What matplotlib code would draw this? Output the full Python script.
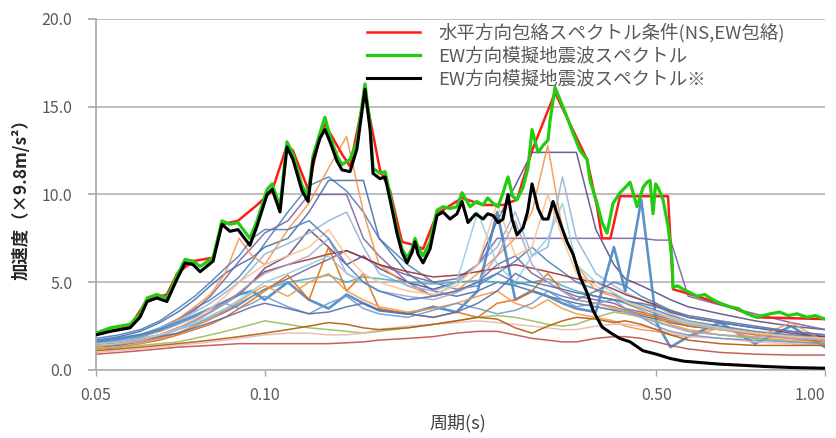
import numpy as np
import matplotlib
matplotlib.use("Agg")
from matplotlib import pyplot as plt
from matplotlib.ticker import FixedLocator, FixedFormatter, NullLocator

plt.rcParams['font.family'] = ['Noto Sans CJK JP', 'DejaVu Sans']

# 背景の各スペクトル（共通の周期）
period_bg = [0.05, 0.055, 0.06, 0.065, 0.07, 0.075, 0.08, 0.085, 0.09, 0.095, 0.10,
             0.11, 0.12, 0.13, 0.14, 0.15, 0.16, 0.18,
             0.20, 0.22, 0.24, 0.26, 0.28, 0.30, 0.32, 0.34, 0.36,
             0.39, 0.42, 0.44, 0.47, 0.50, 0.53,
             0.57, 0.65, 0.75, 0.87, 1.00]

bg01 = [1.6, 1.8, 2.0, 2.4, 2.9, 3.5, 4.0, 4.6, 5.3, 6.2, 7.2,
        9.0, 10.5, 11.0, 10.2, 9.0, 7.5, 6.0,
        5.0, 4.6, 4.8, 5.5, 6.2, 7.0, 6.2, 5.6, 5.0,
        4.6, 4.3, 4.0, 3.7, 3.4, 3.1,
        2.8, 2.5, 2.2, 2.0, 1.9]
bg02 = [1.5, 1.7, 1.9, 2.3, 2.9, 3.4, 4.2, 5.2, 6.2, 7.0, 7.8,
        8.5, 10.0, 10.0, 10.0, 7.5, 6.5, 5.0,
        4.2, 4.5, 5.0, 6.0, 6.5, 5.5, 5.0, 4.5, 4.2,
        4.0, 3.8, 3.5, 3.3, 3.1, 2.9,
        2.6, 2.4, 2.1, 1.9, 1.8]
bg03 = [1.4, 1.5, 1.7, 2.0, 2.4, 2.8, 3.3, 3.8, 4.3, 5.0, 5.8,
        6.5, 8.0, 7.0, 6.0, 6.5, 5.8, 5.0,
        4.6, 5.0, 6.0, 8.5, 10.5, 12.4, 12.4, 12.4, 12.4,
        8.0, 6.0, 5.2, 4.8, 4.4, 4.0,
        3.6, 3.2, 2.8, 2.5, 2.3]
bg04 = [1.3, 1.4, 1.6, 1.8, 2.1, 2.5, 2.9, 3.3, 3.7, 4.2, 4.6,
        5.2, 5.8, 6.3, 6.8, 6.4, 6.0, 5.4,
        5.0, 5.2, 6.0, 7.5, 7.5, 7.5, 7.5, 7.5, 7.5,
        7.5, 7.5, 7.5, 7.5, 7.4, 7.4,
        4.2, 3.7, 3.2, 2.7, 2.3]
bg05 = [1.7, 1.9, 2.2, 2.7, 3.3, 4.0, 4.8, 5.5, 6.0, 6.4, 7.0,
        7.5, 9.0, 10.8, 10.8, 10.8, 7.5, 5.5,
        4.5, 4.2, 4.5, 5.0, 4.8, 4.5, 4.2, 4.0, 3.8,
        3.6, 3.4, 3.3, 3.1, 2.9, 2.7,
        2.5, 2.3, 2.1, 1.9, 1.8]
bg06 = [1.3, 1.5, 1.8, 2.3, 2.9, 3.6, 4.3, 5.5, 7.5, 6.5, 6.0,
        8.0, 9.5, 11.5, 13.3, 9.0, 6.0, 4.8,
        4.2, 4.5, 5.5, 6.5, 7.5, 9.0, 12.8, 8.0, 6.0,
        4.5, 4.2, 3.8, 3.4, 3.0, 2.6,
        2.3, 2.0, 1.8, 1.7, 1.6]
bg07 = [1.5, 1.7, 2.0, 2.4, 2.8, 3.3, 3.8, 4.4, 5.0, 5.8, 6.6,
        7.2, 7.8, 8.5, 9.0, 7.0, 5.5, 4.8,
        4.5, 5.0, 6.0, 7.0, 9.0, 6.5, 7.0, 11.0, 7.5,
        5.5, 4.8, 4.4, 4.0, 3.6, 3.2,
        2.8, 2.4, 2.1, 1.9, 1.8]
bg08 = [1.6, 1.8, 2.0, 2.3, 2.7, 3.1, 3.5, 3.9, 4.3, 4.5, 4.0,
        5.0, 4.0, 3.5, 4.3, 3.8, 3.4, 3.2,
        3.6, 3.3, 4.5, 9.0, 4.0, 4.5, 4.2, 3.8, 3.5,
        3.3, 7.0, 4.5, 9.7, 2.7, 1.3,
        1.9, 2.7, 1.5, 2.5, 1.3]
bg09 = [1.5, 1.6, 1.8, 2.0, 2.3, 2.6, 3.0, 3.4, 3.8, 4.2, 4.6,
        5.0, 5.2, 5.4, 5.0, 5.3, 5.2, 5.0,
        4.9, 5.0, 5.1, 5.0, 4.9, 5.0, 5.2, 4.8, 4.5,
        4.2, 4.0, 3.8, 3.5, 3.2, 3.0,
        2.7, 2.4, 2.1, 1.9, 1.7]
bg10 = [1.4, 1.5, 1.7, 2.0, 2.4, 2.8, 3.3, 3.8, 4.4, 5.0, 5.6,
        6.0, 6.3, 6.6, 6.8, 6.4, 6.0, 5.6,
        5.3, 5.4, 5.6, 5.8, 6.0, 5.8, 5.6, 5.4, 5.2,
        5.0, 4.6, 4.3, 4.0, 3.7, 3.3,
        3.0, 2.7, 2.4, 2.1, 1.9]
bg11 = [1.2, 1.3, 1.5, 1.7, 2.0, 2.3, 2.6, 3.0, 3.5, 4.0, 4.5,
        5.4, 4.0, 7.0, 4.5, 5.5, 3.5, 3.2,
        3.0, 3.3, 3.0, 3.8, 4.0, 4.5, 5.5, 4.5, 4.0,
        3.8, 3.6, 3.4, 3.2, 3.0, 2.8,
        2.5, 2.3, 2.0, 1.8, 1.6]
bg12 = [1.2, 1.3, 1.5, 1.8, 2.1, 2.5, 2.9, 3.4, 3.9, 4.4, 4.8,
        4.2, 5.0, 5.5, 4.5, 4.0, 3.6, 3.3,
        3.5, 3.8, 4.2, 4.5, 3.8, 3.5, 4.0, 3.5, 3.2,
        3.0, 2.8, 2.5, 2.3, 2.2, 2.0,
        1.9, 2.4, 1.8, 2.7, 1.6]
bg13 = [1.2, 1.3, 1.4, 1.5, 1.6, 1.8, 2.0, 2.2, 2.4, 2.6, 2.8,
        2.6, 2.4, 2.3, 2.2, 2.1, 2.2, 2.4,
        2.6, 2.8, 3.0, 3.1, 3.0, 2.8, 2.6, 2.5, 2.6,
        3.0, 3.3, 3.2, 3.0, 2.8, 2.5,
        2.2, 2.0, 1.8, 1.6, 1.5]
bg14 = [0.9, 1.0, 1.1, 1.2, 1.3, 1.35, 1.4, 1.45, 1.5, 1.5, 1.5,
        1.5, 1.5, 1.5, 1.55, 1.6, 1.7, 1.8,
        1.9, 2.1, 2.2, 2.2, 2.0, 1.8, 1.7, 1.6, 1.6,
        1.8, 1.9, 1.9, 1.8, 1.6, 1.4,
        1.2, 1.0, 0.9, 0.85, 0.85]
bg15 = [1.0, 1.1, 1.2, 1.3, 1.4, 1.5, 1.6, 1.7, 1.8, 1.9, 2.0,
        2.1, 2.1, 2.0, 2.0, 2.1, 2.3, 2.5,
        2.6, 2.7, 2.8, 2.7, 2.6, 2.5, 2.4, 2.3, 2.3,
        2.5, 2.6, 2.6, 2.5, 2.3, 2.1,
        1.9, 1.8, 1.6, 1.5, 1.4]
bg16 = [1.1, 1.2, 1.3, 1.4, 1.5, 1.6, 1.7, 1.8, 1.9, 2.0, 2.1,
        2.3, 2.5, 2.7, 2.6, 2.4, 2.3, 2.4,
        2.6, 2.8, 3.0, 2.9, 2.4, 2.1, 2.5, 2.8, 3.0,
        2.9, 2.7, 2.8, 2.6, 2.3, 2.0,
        1.7, 1.5, 1.4, 1.4, 1.4]
bg17 = [1.5, 1.7, 1.9, 2.2, 2.6, 3.0, 3.5, 3.8, 3.5, 3.8, 4.2,
        3.6, 3.2, 3.8, 4.2, 3.5, 3.2, 3.0,
        3.4, 3.8, 3.5, 3.2, 3.4, 3.8, 4.5, 4.0, 3.6,
        3.8, 4.0, 3.5, 3.0, 2.5, 2.2,
        2.0, 1.8, 1.7, 1.6, 1.5]
bg18 = [1.4, 1.5, 1.6, 1.9, 2.3, 2.8, 3.3, 3.8, 4.4, 5.0, 5.5,
        6.0, 6.5, 7.5, 5.5, 5.0, 4.5, 4.2,
        4.0, 4.4, 5.0, 6.5, 8.5, 6.0, 5.0, 4.5, 4.0,
        3.8, 3.5, 3.3, 3.0, 2.7, 2.5,
        2.2, 2.0, 1.9, 1.8, 1.7]
bg19 = [1.5, 1.6, 1.8, 2.0, 2.3, 2.7, 3.1, 3.5, 4.0, 4.5, 5.0,
        5.5, 6.0, 6.5, 5.5, 5.0, 4.5, 4.0,
        4.2, 5.0, 9.0, 6.0, 5.0, 6.5, 7.5, 9.5, 6.0,
        5.0, 4.4, 4.0, 3.6, 3.3, 2.9,
        2.6, 2.3, 2.1, 1.9, 1.8]
bg20 = [1.4, 1.5, 1.7, 1.9, 2.1, 2.4, 2.7, 3.0, 3.3, 3.6, 3.8,
        3.5, 3.2, 3.3, 3.6, 3.8, 3.4, 3.2,
        3.0, 3.3, 3.8, 4.5, 5.5, 5.0, 4.8, 4.6, 4.4,
        4.2, 4.0, 3.9, 3.8, 3.6, 3.4,
        3.1, 2.8, 2.5, 2.2, 2.0]
bg21 = [1.4, 1.5, 1.7, 2.0, 2.4, 2.9, 3.5, 4.2, 5.0, 5.5, 6.0,
        6.5, 7.0, 8.0, 6.5, 5.5, 5.0, 4.5,
        4.3, 4.8, 6.0, 9.5, 6.5, 7.0, 10.0, 7.5, 5.5,
        4.8, 4.2, 3.9, 3.6, 3.3, 3.0,
        2.7, 2.4, 2.1, 1.9, 1.8]
bg22 = [1.8, 2.0, 2.3, 2.8, 3.5, 4.2, 5.0, 5.8, 6.5, 7.5, 8.0,
        8.0, 8.5, 7.5, 6.0, 5.0, 4.5, 4.0,
        4.2, 4.5, 5.0, 5.5, 5.0, 4.8, 4.5, 4.2, 4.0,
        4.5, 5.0, 4.8, 4.2, 3.8, 3.4,
        3.0, 2.7, 2.4, 2.2, 2.0]

bg_all = [bg01, bg02, bg03, bg04, bg05, bg06, bg07, bg08, bg09, bg10, bg11,
          bg12, bg13, bg14, bg15, bg16, bg17, bg18, bg19, bg20, bg21, bg22]
bg_colors = ['#4F81BD', '#8064A2', '#5F4B8B', '#7A5FA8', '#4A6FA5', '#F79646',
             '#95B3D7', '#4A86C5', '#4BACC6', '#953735', '#E46C0A', '#F79646',
             '#9BBB59', '#C0504D', '#E6B9B8', '#B65708', '#729ACA', '#B3A2C7',
             '#93CDDD', '#5A6FA8', '#FAC090', '#4F81BD']
bg_widths = [1.1] * 22
bg_widths[7] = 1.9

# 水平方向包絡スペクトル条件
env_t = [0.05, 0.0575, 0.0617, 0.0669, 0.0698, 0.0745, 0.0809, 0.0839, 0.0896, 0.0969,
         0.1031, 0.1096, 0.1123, 0.1195, 0.1255, 0.1281, 0.1374, 0.142, 0.151, 0.1606,
         0.1674, 0.1758, 0.1855, 0.1917, 0.203, 0.225, 0.2453, 0.2663, 0.282, 0.300,
         0.3297, 0.3761, 0.3918, 0.40, 0.414, 0.4307, 0.5246, 0.5355, 0.591, 0.677,
         0.756, 1.0]
env_v = [2.0, 2.5, 4.0, 4.3, 5.5, 6.2, 6.4, 8.3, 8.5, 9.4,
         10.2, 12.8, 12.5, 10.3, 13.4, 14.0, 12.3, 11.6, 15.8, 11.4,
         10.2, 7.3, 7.1, 6.9, 8.9, 9.8, 9.4, 9.4, 9.7, 12.5,
         15.8, 12.0, 9.3, 7.5, 7.5, 9.9, 9.9, 4.6, 4.2, 3.6,
         3.0, 2.9]

# EW方向模擬地震波スペクトル
ew_t = [0.05, 0.053, 0.0575, 0.0599, 0.0617, 0.0642, 0.0669, 0.0698, 0.0721, 0.0745,
        0.0767, 0.0809, 0.0839, 0.0867, 0.0896, 0.0941, 0.0969, 0.101, 0.1031, 0.1065,
        0.1096, 0.1123, 0.1166, 0.1195, 0.122, 0.1255, 0.1281, 0.1308, 0.1346, 0.1374,
        0.142, 0.1461, 0.151, 0.1542, 0.1561, 0.1606, 0.164, 0.1674, 0.1722, 0.1758,
        0.1795, 0.1832, 0.1855, 0.1878, 0.1917, 0.1973, 0.203, 0.2081, 0.2142, 0.2204,
        0.225, 0.2325, 0.239, 0.2453, 0.25, 0.2556, 0.261, 0.2663, 0.2718, 0.277,
        0.282, 0.2891, 0.295, 0.300, 0.3075, 0.314, 0.3204, 0.323, 0.3297, 0.3366,
        0.3464, 0.355, 0.3654, 0.3761, 0.3807, 0.3918, 0.40, 0.4083, 0.4185, 0.4307,
        0.44, 0.4488, 0.4619, 0.4734, 0.4812, 0.4872, 0.4932, 0.4985, 0.5035, 0.5139,
        0.5246, 0.5333, 0.5355, 0.545, 0.558, 0.575, 0.591, 0.61, 0.631, 0.65,
        0.677, 0.70, 0.726, 0.756, 0.775, 0.798, 0.83, 0.86, 0.891, 0.93,
        0.96, 1.0]
ew_v = [2.1, 2.4, 2.6, 3.2, 4.1, 4.3, 4.1, 5.4, 6.3, 6.2,
        5.9, 6.4, 8.5, 8.3, 8.4, 7.5, 8.5, 10.3, 10.6, 9.3,
        13.0, 12.3, 10.5, 9.9, 12.2, 13.5, 14.4, 13.3, 12.2, 11.7,
        12.0, 13.0, 16.3, 14.0, 11.5, 11.2, 11.3, 10.0, 8.0, 6.9,
        6.4, 6.9, 7.5, 7.0, 6.5, 7.3, 9.1, 9.3, 9.2, 9.3,
        10.1, 9.3, 9.6, 9.4, 9.8, 9.5, 9.3, 10.1, 11.0, 9.9,
        9.7, 10.4, 11.5, 13.7, 12.4, 12.8, 13.1, 14.2, 16.1, 15.4,
        14.4, 13.5, 12.5, 12.0, 10.8, 9.5, 8.4, 7.8, 9.5, 10.1,
        10.4, 10.7, 9.3, 10.4, 10.7, 10.8, 8.9, 10.6, 10.4, 9.7,
        8.2, 6.3, 4.7, 4.8, 4.6, 4.4, 4.2, 4.3, 4.0, 3.8,
        3.6, 3.5, 3.2, 3.0, 3.1, 3.2, 3.3, 3.1, 3.2, 3.0,
        3.1, 2.9]

# EW方向模擬地震波スペクトル※
ew2_t = [0.05, 0.053, 0.0575, 0.0599, 0.0617, 0.0642, 0.0669, 0.0698, 0.0721, 0.0745,
         0.0767, 0.0809, 0.0839, 0.0867, 0.0896, 0.0941, 0.0969, 0.101, 0.1031, 0.1065,
         0.1096, 0.1123, 0.1166, 0.1195, 0.122, 0.1255, 0.1281, 0.1308, 0.1346, 0.1374,
         0.142, 0.1461, 0.151, 0.1542, 0.1561, 0.1606, 0.164, 0.1674, 0.1722, 0.1758,
         0.1795, 0.1832, 0.1855, 0.1878, 0.1917, 0.1973, 0.203, 0.2081, 0.2142, 0.2204,
         0.225, 0.2306, 0.238, 0.2453, 0.25, 0.2556, 0.261, 0.2663, 0.2718, 0.2763,
         0.282, 0.2891, 0.2945, 0.300, 0.3075, 0.3138, 0.3204, 0.327, 0.3366, 0.3464,
         0.355, 0.3654, 0.3761, 0.3854, 0.40, 0.415, 0.43, 0.449, 0.473, 0.50,
         0.53, 0.56, 0.60, 0.65, 0.70, 0.78, 0.87, 1.0]
ew2_v = [2.0, 2.2, 2.4, 3.0, 3.9, 4.1, 3.9, 5.2, 6.1, 6.0,
         5.6, 6.2, 8.3, 7.9, 8.0, 7.1, 8.2, 10.0, 10.3, 9.0,
         12.7, 12.0, 10.2, 9.6, 11.9, 13.2, 13.7, 13.0, 11.9, 11.4,
         11.3, 12.6, 16.0, 13.7, 11.2, 10.9, 11.0, 9.7, 7.8, 6.7,
         6.1, 6.7, 7.3, 6.6, 6.1, 6.9, 8.8, 9.0, 8.6, 8.9,
         9.6, 8.4, 8.9, 8.6, 8.9, 8.8, 8.4, 8.6, 10.0, 8.6,
         7.7, 8.1, 9.0, 10.6, 9.2, 8.6, 8.6, 9.6, 8.4, 7.3,
         6.6, 5.3, 4.4, 3.4, 2.45, 2.1, 1.8, 1.6, 1.1, 0.9,
         0.65, 0.5, 0.42, 0.33, 0.28, 0.2, 0.14, 0.1]

labels = ['水平方向包絡スペクトル条件(NS,EW包絡)',
          'EW方向模擬地震波スペクトル',
          'EW方向模擬地震波スペクトル※']

xtick_vals = [0.05, 0.10, 0.50, 1.00]
xtick_labels = ['0.05', '0.10', '0.50', '1.00']
ytick_vals = [0, 5, 10, 15, 20]
ytick_labels = ['0.0', '5.0', '10.0', '15.0', '20.0']

fig = plt.figure(figsize=(8.37, 4.38), dpi=100)
ax = fig.add_axes([0.1147, 0.1553, 0.8710, 0.8014])

for vals, c, w in zip(bg_all, bg_colors, bg_widths):
    ax.plot(period_bg, vals, color=c, lw=w, alpha=0.9, zorder=2)

ax.plot(env_t, env_v, color='#FF1A1A', lw=1.8, zorder=3, label=labels[0])
ax.plot(ew_t, ew_v, color='#22CC11', lw=2.3, zorder=4, label=labels[1])
ax.plot(ew2_t, ew2_v, color='black', lw=2.2, zorder=5, label=labels[2])

ax.set_xscale('log')
ax.set_xlim(0.05, 1.0)
ax.set_ylim(0, 20)
ax.xaxis.set_major_locator(FixedLocator(xtick_vals))
ax.xaxis.set_major_formatter(FixedFormatter(xtick_labels))
ax.xaxis.set_minor_locator(NullLocator())
ax.set_yticks(ytick_vals)
ax.set_yticklabels(ytick_labels)

ax.grid(axis='y', color='#b4b4b4', lw=1.2, zorder=0)
ax.grid(axis='x', visible=False)
for s in ['top', 'right']:
    ax.spines[s].set_visible(False)
ax.spines['left'].set_color('#a6a6a6')
ax.spines['bottom'].set_color('#b4b4b4')
ax.spines['left'].set_linewidth(1.2)
ax.spines['bottom'].set_linewidth(1.2)
ax.tick_params(axis='y', length=6, width=1.2, color='#a6a6a6', labelcolor='#595959',
               labelsize=11.5, pad=11)
ax.tick_params(axis='x', length=4, width=1.0, color='#a6a6a6', labelcolor='#595959',
               labelsize=11.5, pad=8)
# 右端のラベルは枠内に収める
ax.get_xticklabels()[-1].set_horizontalalignment('right')

leg = ax.legend(loc='upper left', bbox_to_anchor=(0.372, 0.99), frameon=False,
                fontsize=13.3, handlelength=2.85, handletextpad=1.0, labelspacing=0.28,
                borderaxespad=0, borderpad=0)
for t in leg.get_texts():
    t.set_color('#595959')

fig.text(0.026, 0.555, '加速度（×9.8m/s²）', rotation=90, ha='center', va='center',
         fontsize=12.5, fontweight='bold', color='#262626')
fig.text(0.547, 0.034, '周期(s)', ha='center', va='center', fontsize=13, color='#404040')

fig.savefig('out.png', dpi=100)
